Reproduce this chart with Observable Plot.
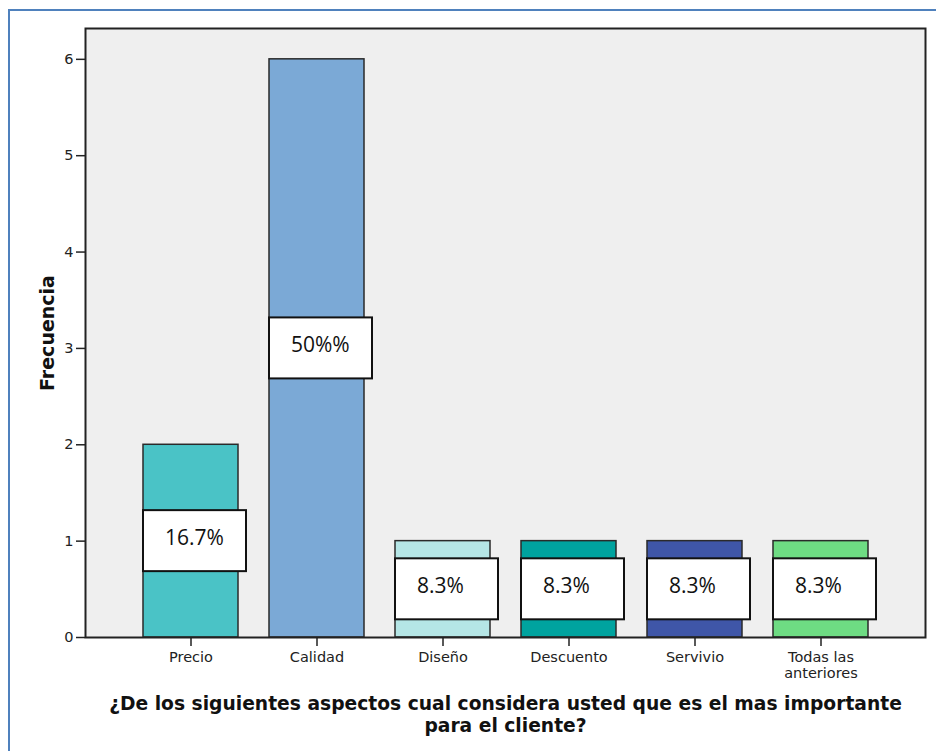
<!DOCTYPE html>
<html>
<head>
<meta charset="utf-8">
<script src="https://cdn.jsdelivr.net/npm/d3@7"></script>
<script src="https://cdn.jsdelivr.net/npm/@observablehq/plot@0.6"></script>
<style>
  html, body { margin: 0; padding: 0; background: #fff; overflow: hidden; }
  #page { position: relative; width: 936px; height: 751px; }
  #border {
    position: absolute; left: 8px; top: 9px; width: 2000px; height: 2000px;
    border: 2px solid #4f81bd; box-sizing: border-box;
  }
  #chart { position: absolute; left: 0; top: 0; }
</style>
</head>
<body>
<div id="page">
  <div id="border"></div>
  <div id="chart"></div>
</div>
<script>
// Answers to: which aspect matters most to the customer
const categories = ["Precio", "Calidad", "Diseño", "Descuento", "Servivio", "Todas las\nanteriores"];
const frequencies = [2, 6, 1, 1, 1, 1];
const percentLabels = ["16.7%", "50%%", "8.3%", "8.3%", "8.3%", "8.3%"];
const yTicks = [0, 1, 2, 3, 4, 5, 6];

const yTitle = "Frecuencia";
const xTitle = "¿De los siguientes aspectos cual considera usted que es el mas importante\npara el cliente?";

const palette = ["#4ac3c6", "#7ba9d6", "#b5e6e6", "#00a39f", "#3f56a8", "#6edc83"];

const rows = categories.map((c, i) => ({
  category: c,
  value: frequencies[i],
  label: percentLabels[i]
}));

const chart = Plot.plot({
  width: 936,
  height: 751,
  marginLeft: 85,
  marginRight: 11,
  marginTop: 28,
  marginBottom: 114,
  style: { fontFamily: "DejaVu Sans, sans-serif", fontSize: "14.5px", color: "#222", background: "transparent" },
  x: { domain: categories, paddingInner: 0.25, paddingOuter: 0.125, inset: 42, label: null },
  y: { domain: [0, 6.32], label: null },
  color: { domain: categories, range: palette },
  marks: [
    Plot.frame({ fill: "#efefef" }),
    Plot.barY(rows, { x: "category", y: "value", fill: "category", stroke: "#2a2a2a", strokeWidth: 1.5 }),
    // percentage boxes, centred at half of each bar
    Plot.barY(rows, {
      x: "category",
      y1: d => d.value / 2,
      y2: d => d.value / 2,
      insetTop: -30.5, insetBottom: -30.5, insetLeft: 0, insetRight: -8,
      fill: "white", stroke: "#111", strokeWidth: 2
    }),
    Plot.text(rows, {
      x: "category",
      y: d => d.value / 2,
      text: "label",
      textAnchor: "start",
      dx: -26, dy: -3,
      fontFamily: "Open Sans, sans-serif",
      fontSize: 21,
      fill: "#111"
    }),
    Plot.frame({ stroke: "#222", strokeWidth: 2 }),
    Plot.axisY({ ticks: yTicks, tickSize: 9, tickPadding: 3, tickFormat: d => d, strokeWidth: 1.5, label: null }),
    Plot.axisX({ tickSize: 9, tickPadding: 4, strokeWidth: 1.5, label: null, lineHeight: 1.1 }),
    Plot.text([yTitle], {
      frameAnchor: "left", dx: -38, rotate: -90,
      textAnchor: "middle", fontWeight: "bold", fontSize: 19, fill: "#111"
    }),
    Plot.text([xTitle], {
      frameAnchor: "bottom", dy: 76, lineAnchor: "middle", lineHeight: 1.19,
      textAnchor: "middle", fontWeight: "bold", fontSize: 18.7, fill: "#111"
    })
  ]
});

document.getElementById("chart").appendChild(chart);
</script>
</body>
</html>
